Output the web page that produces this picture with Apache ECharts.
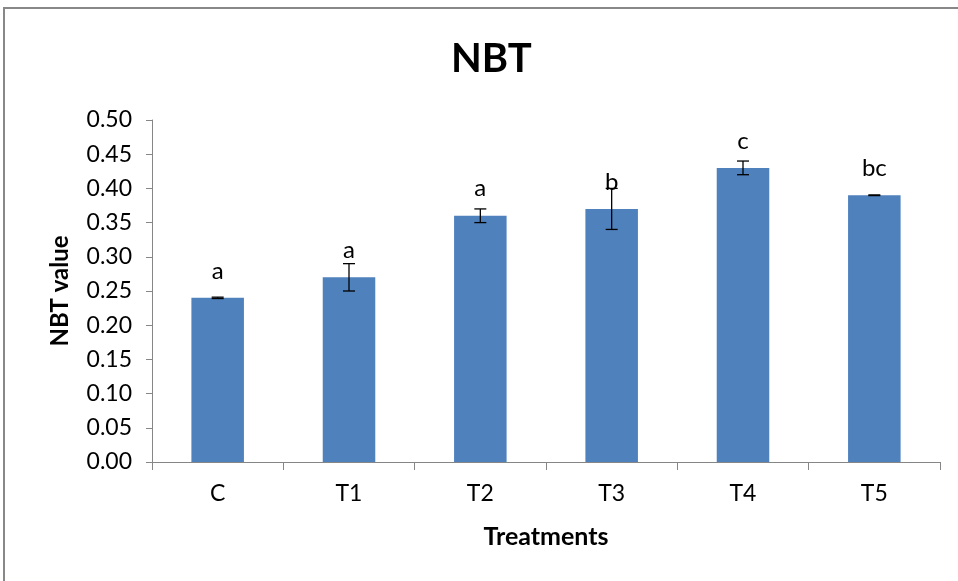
<!DOCTYPE html>
<html><head><meta charset="utf-8">
<script src="https://cdn.jsdelivr.net/npm/echarts@6/dist/echarts.min.js"></script>
<style>html,body{margin:0;padding:0;background:#fff}#c{width:958px;height:581px}</style>
</head><body><div id="c"></div>
<script>
const categories = ['C', 'T1', 'T2', 'T3', 'T4', 'T5'];
const values = [0.24, 0.27, 0.36, 0.37, 0.43, 0.39];
const errors = [0.001, 0.02, 0.01, 0.03, 0.01, 0.0005];
const letters = ['a', 'a', 'a', 'b', 'c', 'bc'];
const yTicks = [0, 0.05, 0.10, 0.15, 0.20, 0.25, 0.30, 0.35, 0.40, 0.45, 0.50];

const font = 'Lato, "Open Sans", sans-serif';
const chart = echarts.init(document.getElementById('c'));
chart.setOption({
  animation: false,
  title: {text: 'NBT', left: 446, top: 34, textStyle: {fontFamily: font, fontSize: 40, fontWeight: 'bold', color: '#000'}},
  graphic: [{type: 'rect', shape: {x: 4, y: 8, width: 1000, height: 700}, style: {fill: 'none', stroke: '#888', lineWidth: 2}}],
  grid: {left: 152, right: 18, top: 120, bottom: 119},
  xAxis: {
    type: 'category', data: categories,
    name: 'Treatments', nameLocation: 'middle', nameGap: 62,
    nameTextStyle: {fontFamily: font, fontSize: 25, fontWeight: 'bold', color: '#000'},
    axisLine: {lineStyle: {color: '#868686', width: 1}},
    axisTick: {show: true, length: 8, lineStyle: {color: '#868686'}},
    axisLabel: {fontFamily: font, fontSize: 23, color: '#000', margin: 20}
  },
  yAxis: {
    type: 'value', min: 0, max: 0.5, interval: 0.05,
    name: 'NBT value', nameLocation: 'middle', nameGap: 80,
    nameTextStyle: {fontFamily: font, fontSize: 24, fontWeight: 'bold', color: '#000'},
    axisLine: {show: true, lineStyle: {color: '#868686', width: 1}},
    axisTick: {show: true, length: 6, lineStyle: {color: '#868686'}},
    splitLine: {show: false},
    axisLabel: {fontFamily: font, fontSize: 23, color: '#000', margin: 20,
      formatter: v => { const t = yTicks.find(x => Math.abs(x - v) < 1e-9); return (t !== undefined ? t : v).toFixed(2); }}
  },
  series: [
    {
      type: 'bar', data: values, barWidth: '40%',
      itemStyle: {color: '#4F81BD'},
      label: {show: true, position: 'top', distance: 15, fontFamily: font, fontSize: 24, color: '#000',
        formatter: p => letters[p.dataIndex]}
    },
    {
      type: 'custom', z: 10,
      data: values.map((v, i) => [i, v - errors[i], v + errors[i]]),
      renderItem: (params, api) => {
        const x = api.value(0);
        const lo = api.coord([x, api.value(1)]);
        const hi = api.coord([x, api.value(2)]);
        const hw = 6;
        const st = {stroke: '#000', lineWidth: 1.3};
        return {type: 'group', children: [
          {type: 'line', shape: {x1: lo[0], y1: lo[1], x2: hi[0], y2: hi[1]}, style: st},
          {type: 'line', shape: {x1: lo[0] - hw, y1: lo[1], x2: lo[0] + hw, y2: lo[1]}, style: st},
          {type: 'line', shape: {x1: hi[0] - hw, y1: hi[1], x2: hi[0] + hw, y2: hi[1]}, style: st}
        ]};
      }
    }
  ]
});
</script></body></html>
